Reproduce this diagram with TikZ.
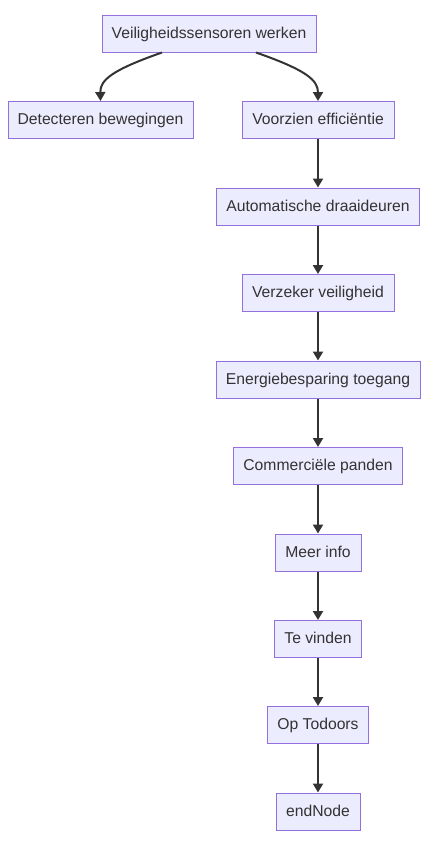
\documentclass[tikz,border=0pt]{standalone}
\usepackage{fontspec}
\setmainfont{Liberation Sans}
\usetikzlibrary{arrows.meta}
\definecolor{boxfill}{HTML}{ECECFF}
\definecolor{boxline}{HTML}{9370DB}
\definecolor{inktext}{HTML}{333333}
\tikzset{
  font={\fontsize{15.7pt}{19}\selectfont},
  stepbox/.style={draw=boxline, fill=boxfill, text=inktext, line width=1pt,
    minimum height=37, inner sep=0pt, text height=11.6pt, text depth=2.4pt},
  flow/.style={draw=inktext, line width=2pt,
    -{Triangle[length=9pt,width=10pt]}}}
\begin{document}
\begin{tikzpicture}[x=1pt,y=-1pt]
\useasboundingbox (0,0) rectangle (436,846);
\node[stepbox, minimum width=214] (sensors) at (209,33.5) {Veiligheidssensoren werken};
\node[stepbox, minimum width=185] (detect) at (100.5,120) {Detecteren bewegingen};
\node[stepbox, minimum width=152] (effic) at (318,120) {Voorzien efficiëntie};
\node[stepbox, minimum width=203] (doors) at (318,206.5) {Automatische draaideuren};
\node[stepbox, minimum width=152] (safety) at (318,293) {Verzeker veiligheid};
\node[stepbox, minimum width=204] (energy) at (318,379.5) {Energiebesparing toegang};
\node[stepbox, minimum width=169] (comm) at (318,466) {Commerciële panden};
\node[stepbox, minimum width=86] (info) at (318,552.5) {Meer info};
\node[stepbox, minimum width=87] (find) at (318,639) {Te vinden};
\node[stepbox, minimum width=101] (todoors) at (318,725) {Op Todoors};
\node[stepbox, minimum width=84] (finish) at (318,811.5) {endNode};
\draw[flow] ([xshift=-47]sensors.south) .. controls (112,70) and (100,80) .. (detect.north);
\draw[flow] ([xshift=47]sensors.south) .. controls (306,70) and (318,80) .. (effic.north);
\foreach \a/\b in {effic/doors, doors/safety, safety/energy, energy/comm,
  comm/info, info/find, find/todoors, todoors/finish}
  \draw[flow] (\a) -- (\b);
\end{tikzpicture}
\end{document}
